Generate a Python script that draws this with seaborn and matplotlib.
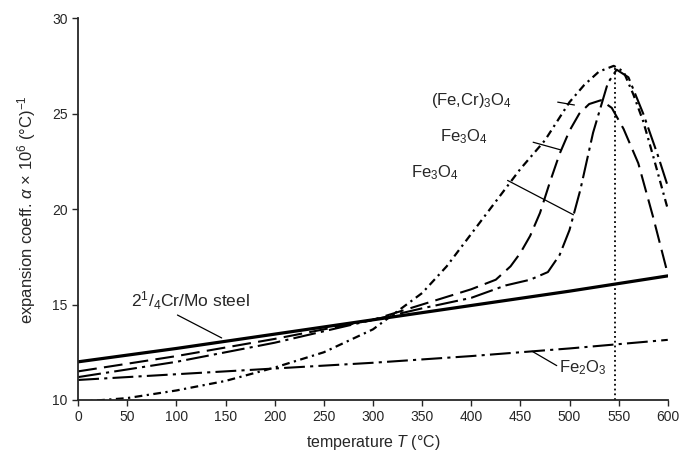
import numpy as np
import pandas as pd
import seaborn as sns
import matplotlib.pyplot as plt

steel_T = [0, 100, 200, 300, 400, 500, 600]
steel = [12.0, 12.7, 13.45, 14.2, 14.95, 15.7, 16.5]

fe2o3_T = [0, 100, 200, 300, 400, 500, 600]
fe2o3 = [11.05, 11.35, 11.65, 11.95, 12.3, 12.7, 13.15]

fecr_T = [0, 50, 100, 150, 200, 250, 300, 350, 375, 400, 425, 450, 475, 500,
          515, 530, 545, 555, 565, 575, 585, 600]
fecr = [9.9, 10.1, 10.5, 11.0, 11.7, 12.5, 13.7, 15.6, 17.0, 18.7, 20.4, 22.1,
        23.6, 25.6, 26.5, 27.2, 27.5, 27.2, 26.0, 24.6, 22.8, 20.0]

fe3o4a_T = [0, 100, 200, 300, 350, 400, 425, 440, 450, 460, 470, 480, 490, 500,
            510, 520, 532, 543, 555, 570, 585, 600]
fe3o4a = [11.5, 12.3, 13.2, 14.2, 15.0, 15.8, 16.3, 17.0, 17.7, 18.6, 19.8, 21.4,
          22.9, 24.1, 25.0, 25.5, 25.7, 25.3, 24.2, 22.4, 19.6, 16.6]

fe3o4b_T = [0, 100, 200, 300, 350, 400, 435, 460, 478, 490, 500, 511, 524, 539,
            548, 560, 575, 590, 600]
fe3o4b = [11.2, 12.0, 13.0, 14.2, 14.8, 15.35, 16.0, 16.3, 16.7, 17.6, 18.9, 21.0,
          24.0, 26.6, 27.3, 26.9, 25.0, 22.8, 21.2]

peak_T = 546
peak_alpha = 27.5

sns.set_style("ticks")
plt.rcParams['font.family'] = ['Liberation Sans', 'DejaVu Sans']
plt.rcParams['mathtext.fontset'] = 'custom'
plt.rcParams['mathtext.rm'] = 'Liberation Sans'
plt.rcParams['mathtext.it'] = 'Liberation Sans:italic'

fig = plt.figure(figsize=(6.8, 4.53), dpi=100)
ax = fig.add_axes([0.115, 0.117, 0.867, 0.843])

series = [
    (steel_T, steel, "-", 2.3),
    (fe2o3_T, fe2o3, (0, (10, 2.5, 1.5, 2.5)), 1.5),
    (fecr_T, fecr, (0, (3.5, 2, 1, 2)), 1.6),
    (fe3o4a_T, fe3o4a, (0, (9, 3.5)), 1.5),
    (fe3o4b_T, fe3o4b, (0, (11, 2.5, 1.5, 2.5)), 1.5),
]
for T, a, ls, lw in series:
    df = pd.DataFrame({"T": T, "alpha": a})
    sns.lineplot(data=df, x="T", y="alpha", ax=ax, color="black",
                 linestyle=ls, linewidth=lw, sort=False)

ax.plot([peak_T, peak_T], [10, peak_alpha], color="black", linestyle=":", linewidth=1.3)

# labels with leader lines
fs = 12
ax.text(400, 25.7, r"(Fe,Cr)$_3$O$_4$", fontsize=fs, ha="center", va="center")
ax.plot([488, 505], [25.6, 25.45], color="black", lw=0.9)
ax.text(392, 23.8, r"Fe$_3$O$_4$", fontsize=fs, ha="center", va="center")
ax.plot([463, 491], [23.5, 23.1], color="black", lw=0.9)
ax.text(363, 21.9, r"Fe$_3$O$_4$", fontsize=fs, ha="center", va="center")
ax.plot([437, 504], [21.5, 19.7], color="black", lw=0.9)
ax.text(114, 15.2, r"2$^{1}$/$_{4}$Cr/Mo steel", fontsize=12.5, ha="center", va="center")
ax.plot([101, 146], [14.45, 13.25], color="black", lw=0.9)
ax.text(513, 11.7, r"Fe$_2$O$_3$", fontsize=fs, ha="center", va="center")
ax.plot([462, 487], [12.55, 11.8], color="black", lw=0.9)

ax.set_xlim(0, 600)
ax.set_ylim(10, 30)
ax.set_xticks(np.arange(0, 601, 50))
ax.set_yticks([10, 15, 20, 25, 30])
ax.tick_params(labelsize=10, length=4, width=1)
ax.set_xlabel(r"temperature $T$ (°C)", fontsize=11.5, labelpad=6)
ax.set_ylabel(r"expansion coeff. $\alpha$ × 10$^6$ (°C)$^{-1}$", fontsize=12, labelpad=10)
sns.despine(ax=ax)
for s in ["left", "bottom"]:
    ax.spines[s].set_linewidth(1.3)

fig.savefig("out.png", dpi=100)
